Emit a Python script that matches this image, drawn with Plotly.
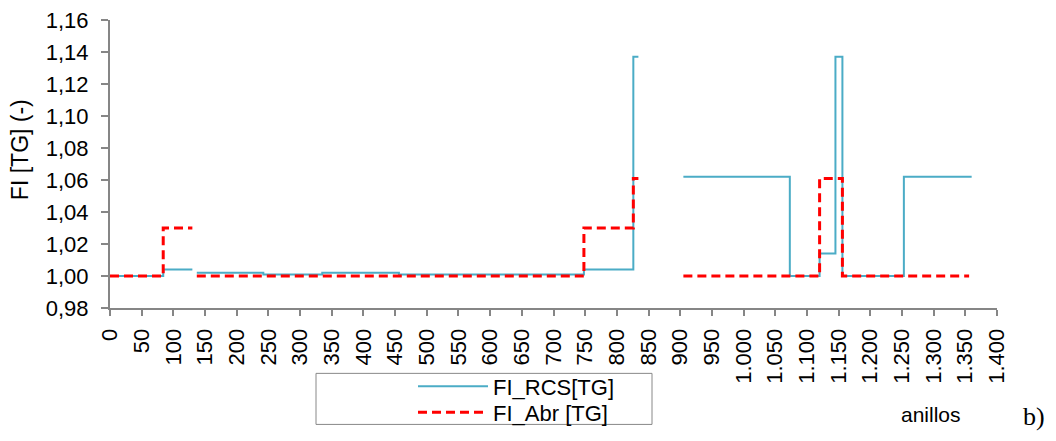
import plotly.graph_objects as go

# ---- data ----
rcs_name = "FI_RCS[TG]"
rcs_x = [0, 84, 130, None, 137, 242, 335, 456, 748, 826, 834, None,
         905, 1073, 1120, 1145, 1156, 1253, 1360]
rcs_y = [1.000, 1.004, 1.004, None, 1.002, 1.001, 1.002, 1.001, 1.004, 1.137, 1.137, None,
         1.062, 1.000, 1.014, 1.137, 1.000, 1.062, 1.062]

abr_name = "FI_Abr [TG]"
abr_x = [0, 84, 130, None, 137, 748, 826, 834, None, 905, 1120, 1156, 1356]
abr_y = [1.000, 1.030, 1.030, None, 1.000, 1.030, 1.061, 1.061, None, 1.000, 1.061, 1.000, 1.000]

x_title = "anillos"
y_title = "FI [TG] (-)"
panel_label = "b)"

# ---- layout geometry ----
W, H = 1056, 441
L, R, T, B = 110, 997, 20, 307.7

def px(x):
    return (x - L) / (R - L)

def py(y):
    return (B - y) / (B - T)

FONT = "Liberation Sans, Arial, sans-serif"
AXIS_COLOR = "#868686"
TICK_SIZE = 22
LEG_SIZE = 22

fig = go.Figure()
fig.add_trace(go.Scatter(x=rcs_x, y=rcs_y, name=rcs_name, mode="lines",
                         line=dict(color="#4BACC6", width=2, shape="hv"),
                         connectgaps=False, legend="legend"))
fig.add_trace(go.Scatter(x=abr_x, y=abr_y, name=abr_name, mode="lines",
                         line=dict(color="#FF0000", width=3, dash="9px,5px", shape="hv"),
                         connectgaps=False, legend="legend2"))

leg_common = dict(xanchor="left", yanchor="middle", bgcolor="rgba(0,0,0,0)",
                  borderwidth=0, font=dict(family=FONT, size=LEG_SIZE), itemwidth=70)

fig.update_layout(
    width=W, height=H,
    margin=dict(l=L, r=W - R, t=T, b=H - B, pad=0, autoexpand=False),
    paper_bgcolor="white", plot_bgcolor="white",
    separators=",.",
    font=dict(family=FONT, size=TICK_SIZE, color="#000000"),
    showlegend=True,
    legend=dict(x=px(413), y=py(386), **leg_common),
    legend2=dict(x=px(413), y=py(412), **leg_common),
)
fig.update_xaxes(range=[0, 1400], dtick=50, tick0=0, tickformat=",d", tickangle=-90,
                 automargin=False,
                 showgrid=False, zeroline=False, showline=True, linecolor=AXIS_COLOR,
                 linewidth=2, ticks="outside", ticklen=6, tickcolor=AXIS_COLOR, tickwidth=2,
                 ticklabelstandoff=4,
                 tickfont=dict(family=FONT, size=TICK_SIZE))
fig.update_yaxes(range=[0.98, 1.16], dtick=0.02, tick0=0.98, tickformat=".2f",
                 automargin=False,
                 showgrid=False, zeroline=False, showline=True, linecolor=AXIS_COLOR,
                 linewidth=2, ticks="outside", ticklen=7, tickcolor=AXIS_COLOR, tickwidth=2,
                 ticklabelstandoff=8,
                 tickfont=dict(family=FONT, size=TICK_SIZE))

# legend frame
fig.add_shape(type="rect", xref="paper", yref="paper",
              x0=px(316), x1=px(652), y0=py(424), y1=py(373),
              line=dict(color="#888888", width=1), fillcolor="rgba(0,0,0,0)")

fig.add_annotation(text=y_title, xref="paper", yref="paper", x=px(20), y=py(150),
                   showarrow=False, textangle=-90, font=dict(family=FONT, size=23),
                   xanchor="center", yanchor="middle")
fig.add_annotation(text=x_title, xref="paper", yref="paper", x=px(931), y=py(414),
                   showarrow=False, font=dict(family=FONT, size=21),
                   xanchor="center", yanchor="middle")
fig.add_annotation(text=panel_label, xref="paper", yref="paper", x=px(1034), y=py(416),
                   showarrow=False, font=dict(family="Liberation Serif, Times New Roman, serif", size=26),
                   xanchor="center", yanchor="middle")

fig.write_html("out.html")
